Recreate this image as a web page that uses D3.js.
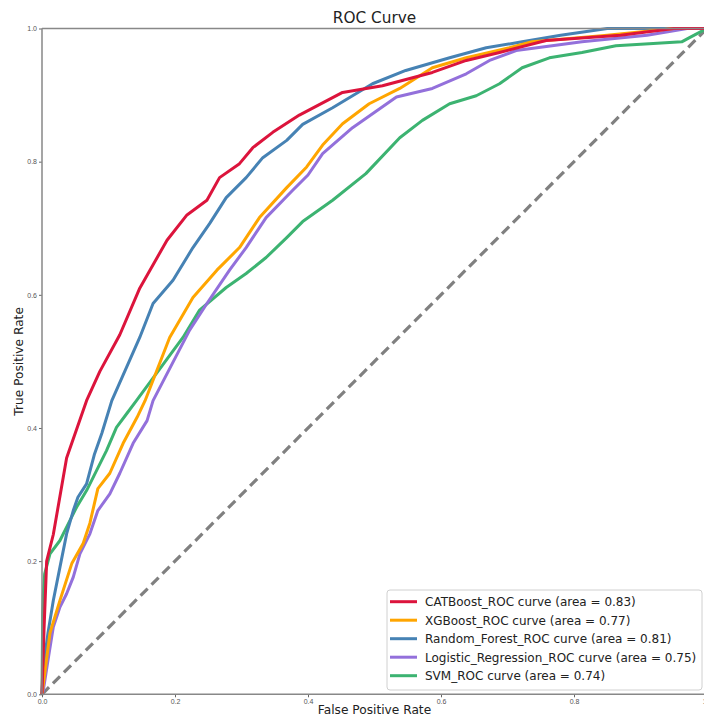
<!DOCTYPE html>
<html lang="en">
<head>
  <meta charset="UTF-8" />
  <title>ROC Curve</title>
  <script src="https://d3js.org/d3.v7.min.js"></script>
  <style>
    body { margin: 0; background: white; font-family: "DejaVu Sans", sans-serif; }
    svg { display: block; }
    .tick text { font-size: 7px; fill: #555; }
    .tick line { stroke: #666; }
    .spine { stroke: #888; stroke-width: 1.5px; fill: none; }
    .curve { fill: none; stroke-width: 3px; stroke-linejoin: round; }
  </style>
</head>
<body>
  <svg width="704" height="717"></svg>
  <script>
    // curve points: [fpr, tpr]
    const catboost = [[0,0],[0.003,0.096],[0.007,0.2],[0.017,0.24],[0.037,0.355],[0.067,0.441],[0.087,0.485],
      [0.117,0.54],[0.147,0.61],[0.188,0.682],[0.218,0.72],[0.248,0.742],[0.267,0.776],[0.297,0.797],
      [0.317,0.821],[0.347,0.844],[0.387,0.87],[0.452,0.904],[0.512,0.914],[0.587,0.934],[0.638,0.952],
      [0.688,0.964],[0.758,0.982],[0.87,0.99],[0.95,1],[1,1]];
    const xgboost = [[0,0],[0.012,0.092],[0.027,0.141],[0.045,0.197],[0.062,0.227],[0.072,0.257],[0.084,0.309],
      [0.102,0.332],[0.122,0.377],[0.143,0.416],[0.155,0.441],[0.192,0.536],[0.227,0.596],[0.263,0.637],
      [0.297,0.671],[0.327,0.716],[0.368,0.761],[0.398,0.792],[0.422,0.825],[0.452,0.857],[0.492,0.887],
      [0.538,0.91],[0.587,0.941],[0.638,0.956],[0.703,0.971],[0.737,0.98],[0.85,0.99],[0.95,1],[1,1]];
    const randomForest = [[0,0],[0.002,0.04],[0.009,0.092],[0.017,0.141],[0.027,0.191],[0.037,0.241],[0.047,0.276],
      [0.054,0.296],[0.067,0.316],[0.079,0.361],[0.09,0.392],[0.105,0.441],[0.147,0.536],[0.167,0.587],
      [0.197,0.622],[0.227,0.671],[0.252,0.707],[0.277,0.746],[0.307,0.776],[0.332,0.806],[0.368,0.832],
      [0.392,0.856],[0.437,0.881],[0.497,0.917],[0.547,0.937],[0.613,0.956],[0.668,0.971],[0.722,0.98],
      [0.78,0.99],[0.85,1],[1,1]];
    const logistic = [[0,0],[0.002,0.006],[0.009,0.051],[0.017,0.101],[0.027,0.131],[0.037,0.151],[0.047,0.176],
      [0.057,0.211],[0.072,0.241],[0.084,0.276],[0.102,0.301],[0.117,0.332],[0.137,0.377],[0.158,0.411],
      [0.167,0.441],[0.222,0.547],[0.248,0.587],[0.282,0.637],[0.307,0.671],[0.337,0.716],[0.377,0.757],
      [0.4,0.78],[0.422,0.812],[0.467,0.851],[0.533,0.897],[0.587,0.91],[0.638,0.932],[0.673,0.952],
      [0.713,0.967],[0.767,0.974],[0.812,0.98],[0.91,0.99],[0.97,1],[1,1]];
    const svm = [[0,0],[0.001,0.12],[0.002,0.151],[0.004,0.181],[0.012,0.211],[0.027,0.231],[0.037,0.251],
      [0.052,0.281],[0.067,0.306],[0.082,0.336],[0.097,0.366],[0.112,0.401],[0.127,0.421],[0.142,0.441],
      [0.212,0.536],[0.237,0.577],[0.277,0.611],[0.307,0.632],[0.337,0.656],[0.368,0.686],[0.392,0.71],
      [0.437,0.742],[0.487,0.782],[0.538,0.836],[0.572,0.862],[0.613,0.887],[0.653,0.899],[0.688,0.917],
      [0.722,0.941],[0.763,0.956],[0.812,0.964],[0.863,0.974],[0.913,0.977],[0.962,0.98],[0.973,0.986],[1,1]];

    const names = ["CATBoost_ROC curve (area = 0.83)", "XGBoost_ROC curve (area = 0.77)",
      "Random_Forest_ROC curve (area = 0.81)", "Logistic_Regression_ROC curve (area = 0.75)",
      "SVM_ROC curve (area = 0.74)"];
    const colors = ["crimson", "orange", "steelblue", "mediumpurple", "mediumseagreen"];
    const series = [catboost, xgboost, randomForest, logistic, svm];
    const ticks = [0, 0.2, 0.4, 0.6, 0.8, 1.0];

    const svg = d3.select("svg");
    const mLeft = 42, mRight = 707, mTop = 28.5, mBottom = 694.3;

    const x = d3.scaleLinear().domain([0, 1]).range([mLeft, mRight]);
    const y = d3.scaleLinear().domain([0, 1]).range([mBottom, mTop]);

    const plot = svg.append("g");

    // diagonal reference line
    plot.append("line")
      .attr("x1", x(0)).attr("y1", y(0))
      .attr("x2", x(1)).attr("y2", y(1))
      .attr("stroke", "#808080")
      .attr("stroke-width", 3.2)
      .attr("stroke-dasharray", "10,5.5");

    const line = d3.line().x(d => x(d[0])).y(d => y(d[1]));

    // draw in reverse so CATBoost sits on top
    series.map((s, i) => ({ s, i })).reverse().forEach(({ s, i }) => {
      plot.append("path")
        .datum(s)
        .attr("class", "curve")
        .attr("stroke", colors[i])
        .attr("d", line);
    });

    // axes
    const xAxis = svg.append("g")
      .attr("transform", `translate(0,${mBottom})`)
      .call(d3.axisBottom(x).tickValues(ticks).tickFormat(d3.format(".1f")).tickSize(3).tickPadding(2));
    const yAxis = svg.append("g")
      .attr("transform", `translate(${mLeft},0)`)
      .call(d3.axisLeft(y).tickValues(ticks).tickFormat(d3.format(".1f")).tickSize(3).tickPadding(2));
    xAxis.select(".domain").remove();
    yAxis.select(".domain").remove();

    // spines
    svg.append("path").attr("class", "spine")
      .attr("d", `M${mLeft},${mBottom}H${mRight}M${mLeft},${mTop}H${mRight}M${mLeft},${mTop}V${mBottom}`);

    // title and labels
    svg.append("text")
      .attr("x", (mLeft + mRight) / 2).attr("y", 23)
      .attr("text-anchor", "middle")
      .attr("font-size", 15.3).attr("fill", "#222")
      .text("ROC Curve");
    svg.append("text")
      .attr("x", (mLeft + mRight) / 2).attr("y", 714)
      .attr("text-anchor", "middle")
      .attr("font-size", 12.2).attr("fill", "#222")
      .text("False Positive Rate");
    svg.append("text")
      .attr("transform", `translate(23,${(mTop + mBottom) / 2}) rotate(-90)`)
      .attr("text-anchor", "middle")
      .attr("font-size", 12.2).attr("fill", "#222")
      .text("True Positive Rate");

    // legend
    const legend = svg.append("g").attr("transform", "translate(387,590)");
    legend.append("rect")
      .attr("width", 315).attr("height", 100).attr("rx", 3)
      .attr("fill", "white").attr("fill-opacity", 0.85)
      .attr("stroke", "#d0d0d0");
    names.forEach((n, i) => {
      const g = legend.append("g").attr("transform", `translate(0,${11.7 + i * 18.5})`);
      g.append("line").attr("x1", 3).attr("x2", 30)
        .attr("stroke", colors[i]).attr("stroke-width", 3);
      g.append("text").attr("x", 38).attr("y", 4.3)
        .attr("font-size", 12).attr("fill", "#222")
        .text(n);
    });
  </script>
</body>
</html>
